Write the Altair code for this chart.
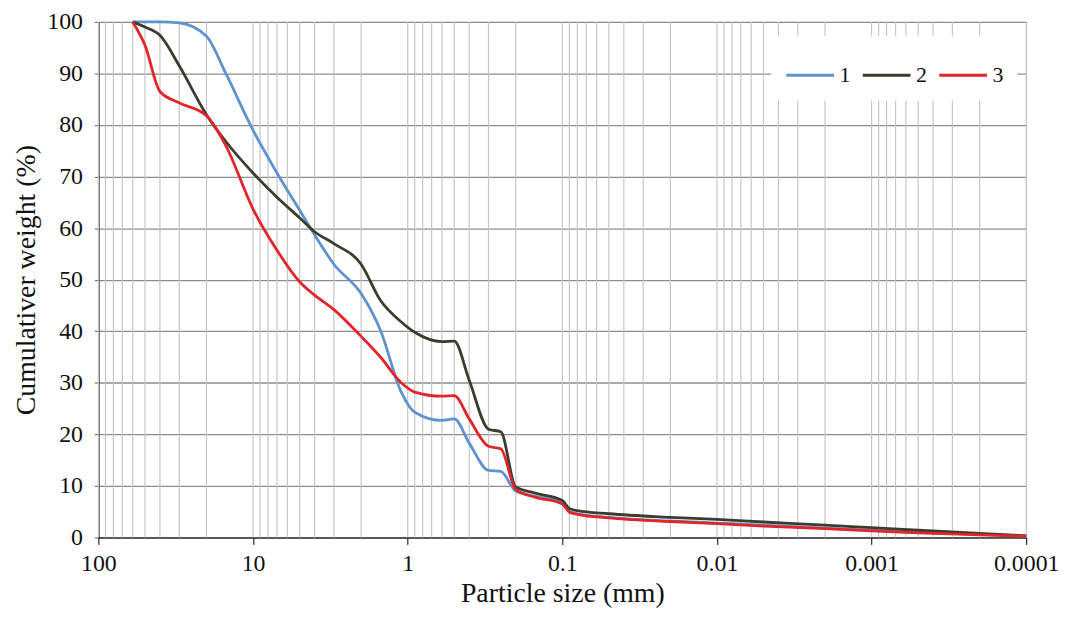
import altair as alt
import pandas as pd

# Particle sizes (mm) at which the curves were read
sizes = [60, 50, 40, 30, 20, 15, 10, 7, 5, 4, 3, 2, 1.5, 1.1, 0.9, 0.6, 0.5, 0.4,
         0.3, 0.25, 0.2, 0.15, 0.1, 0.09, 0.08, 0.05, 0.02, 0.01, 0.005, 0.002,
         0.001, 0.0005, 0.0002, 0.0001]

# Cumulative weight (%) for each series
series_1 = [100, 100, 100, 99.8, 97.2, 90, 79, 70.7, 63.5, 58.7, 53, 47.3, 40.2,
            28.2, 24.3, 22.7, 23.0, 18.3, 13.0, 12.8, 9.0, 8.0, 6.8, 5.0, 4.6,
            3.9, 3.2, 2.8, 2.4, 1.8, 1.4, 1.0, 0.6, 0.3]
series_2 = [100, 99, 97.4, 91.5, 82, 76.8, 70.7, 66, 62, 59.3, 57, 53, 46,
            41.8, 39.8, 38, 38.1, 30.5, 21, 20.5, 9.8, 8.6, 7.2, 5.6, 5.2,
            4.6, 3.9, 3.5, 3.0, 2.4, 1.9, 1.4, 0.8, 0.3]
series_3 = [100, 95.5, 86.5, 84.3, 81.8, 76, 63.7, 55.7, 49.6, 47, 44.2, 39, 35,
            30, 28.2, 27.4, 27.5, 23, 17.7, 17.2, 9.3, 7.8, 6.5, 4.9, 4.5,
            3.8, 3.1, 2.7, 2.2, 1.7, 1.3, 0.9, 0.5, 0.2]

series_names = ["1", "2", "3"]
series_colors = ["#5E93D0", "#3A3D2E", "#E3242B"]

x_tick_values = [100, 10, 1, 0.1, 0.01, 0.001, 0.0001]
y_tick_values = [0, 10, 20, 30, 40, 50, 60, 70, 80, 90, 100]
grid_mantissas = [1, 2, 3, 4, 5, 6, 7, 8, 9]
grid_exponents = [-4, -3, -2, -1, 0, 1]

rows = []
for name, vals in zip(series_names, [series_1, series_2, series_3]):
    for s, v in zip(sizes, vals):
        rows.append({"size": s, "pct": v, "series": name})
df = pd.DataFrame(rows)

grid_vals = [m * 10.0 ** e for e in grid_exponents for m in grid_mantissas] + [100.0]
grid_df = pd.DataFrame({"size": grid_vals})

FONT = "Liberation Serif"

x_scale = alt.Scale(type="log", domain=[0.0001, 100], reverse=True, nice=False)
x_axis = alt.Axis(
    values=x_tick_values, format="~g", grid=False, title="Particle size (mm)",
    tickSize=7, tickColor="black", domainColor="black", domainWidth=1.2,
    labelFont=FONT, labelFontSize=24, labelColor="#111", labelPadding=7,
    titleFont=FONT, titleFontSize=28, titleFontWeight="normal", titleColor="#111",
    titlePadding=4, labelFlush=False,
)
y_axis = alt.Axis(
    values=y_tick_values, title="Cumulativer weight (%)", grid=True,
    gridColor="#8c8c8c", gridWidth=1.3, tickSize=4, tickColor="#555",
    domainColor="black", domainWidth=1.2,
    labelFont=FONT, labelFontSize=24, labelColor="#111", labelPadding=12,
    titleFont=FONT, titleFontSize=28, titleFontWeight="normal", titleColor="#111",
    titlePadding=6,
)

grid_layer = alt.Chart(grid_df).mark_rule(color="#c6c6c6", strokeWidth=1.2).encode(
    x=alt.X("size:Q", scale=x_scale, axis=x_axis)
)

lines = alt.Chart(df).mark_line(strokeWidth=2.8, interpolate="monotone").encode(
    x=alt.X("size:Q", scale=x_scale, axis=x_axis),
    y=alt.Y("pct:Q", scale=alt.Scale(domain=[0, 100], nice=False), axis=y_axis),
    color=alt.Color(
        "series:N",
        scale=alt.Scale(domain=series_names, range=series_colors),
        legend=alt.Legend(
            title=None, orient="none", legendX=677, legendY=14,
            direction="horizontal", fillColor="white", padding=14,
            symbolType="stroke", symbolSize=2304, symbolStrokeWidth=3,
            labelFont=FONT, labelFontSize=22, labelColor="#111",
            labelOffset=4, columnPadding=6,
        ),
    ),
    order=alt.Order("size:Q", sort="descending"),
)

chart = alt.layer(grid_layer, lines).properties(
    width=934, height=519,
    padding={"left": 5, "top": 0, "right": 0, "bottom": 0},
).configure_view(stroke="#333", strokeWidth=1.3).configure(background="white")

chart.save("out.html", embed_options={"renderer": "svg", "actions": False})
